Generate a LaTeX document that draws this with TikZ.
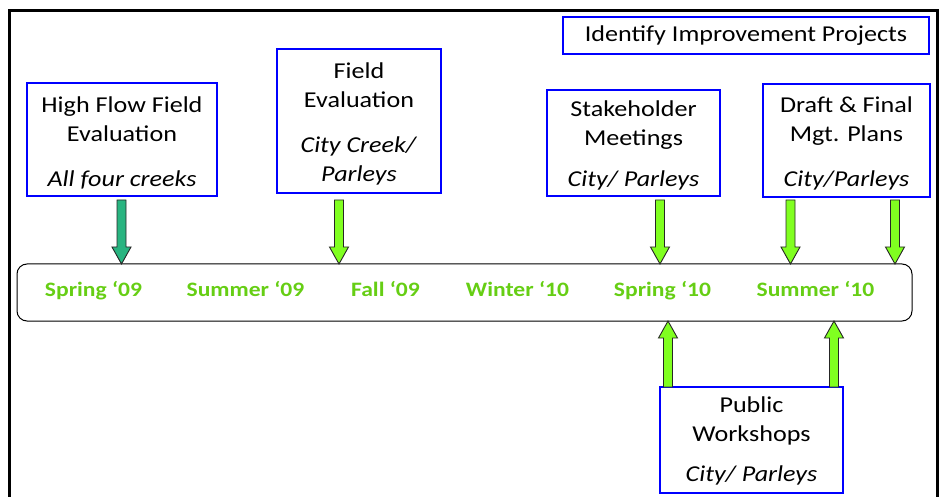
\documentclass[tikz,border=0pt]{standalone}
\usepackage{fontspec}
\setmainfont{Carlito}[FakeStretch=1.15]
\definecolor{seasongreen}{RGB}{102,206,20}
\definecolor{limegreen}{RGB}{128,255,32}
\definecolor{tealgreen}{RGB}{40,180,128}
\newcommand\fatdown[4]{%
  \draw[fatarrow, fill=#4] (#1-4.5,#2) -- (#1+4.5,#2) -- (#1+4.5,#3-17) -- (#1+9.5,#3-17) -- (#1,#3) -- (#1-9.5,#3-17) -- (#1-4.5,#3-17) -- cycle;}
\newcommand\fatup[4]{%
  \draw[fatarrow, fill=#4] (#1-4.5,#2) -- (#1+4.5,#2) -- (#1+4.5,#3+17) -- (#1+9.5,#3+17) -- (#1,#3) -- (#1-9.5,#3+17) -- (#1-4.5,#3+17) -- cycle;}
\begin{document}
\begin{tikzpicture}[x=1pt,y=-1pt,
  box/.style={draw=blue, line width=1.6pt, fill=white, inner sep=0pt},
  boxtext/.style={align=center, font=\fontsize{22.7}{29}\selectfont, inner sep=0pt},
  season/.style={font=\fontsize{20.5}{24}\selectfont\bfseries, text=seasongreen, anchor=base},
  fatarrow/.style={draw=black!85, line width=0.9pt, line join=miter}]
\useasboundingbox (0,0) rectangle (943,497);
\draw[line width=3pt] (9.5,497) -- (9.5,10.5) -- (937.5,10.5) -- (937.5,497);

\node[draw=black, line width=1pt, rounded corners=10pt, minimum width=895, minimum height=57] (tl) at (464.5,292.5) {};

\node[box, minimum width=366, minimum height=37] (idp) at (746,35.5) {};
\node[boxtext] (idpt) at (idp.center) {Identify Improvement Projects};
\node[box, minimum width=190, minimum height=113] (hf) at (122,139.5) {};
\node[boxtext, yshift=-3pt] (hft) at (hf.center)
  {High Flow Field\\Evaluation\\[16pt]\textit{All four creeks}};
\node[box, minimum width=164, minimum height=144] (fe) at (359,121) {};
\node[boxtext, yshift=-3pt] (fet) at (fe.center)
  {Field\\Evaluation\\[16pt]\textit{City Creek/}\\\textit{Parleys}};
\node[box, minimum width=173, minimum height=106] (sm) at (633.5,143) {};
\node[boxtext, yshift=-2pt] (smt) at (sm.center)
  {Stakeholder\\Meetings\\[12pt]\textit{City/ Parleys}};
\node[box, minimum width=167, minimum height=113] (dr) at (846.5,140.5) {};
\node[boxtext, yshift=-3pt] (drt) at (dr.center)
  {Draft \& Final\\Mgt. Plans\\[16pt]\textit{City/Parleys}};
\node[box, minimum width=183, minimum height=106] (pw) at (751.5,440) {};
\node[boxtext, yshift=-1pt] (pwt) at (pw.center)
  {Public\\Workshops\\[11pt]\textit{City/ Parleys}};

\node[season] (s09) at (93.5,297) {Spring ‘09};
\node[season] (su09) at (245.5,297) {Summer ‘09};
\node[season] (f09) at (385.5,297) {Fall ‘09};
\node[season] (w10) at (517.5,297) {Winter ‘10};
\node[season] (s10) at (662.5,297) {Spring ‘10};
\node[season] (su10) at (815.5,297) {Summer ‘10};

\fatdown{121.5}{200}{264}{tealgreen}
\fatdown{339}{200}{264}{limegreen}
\fatdown{660}{200}{264}{limegreen}
\fatdown{790.5}{200}{264}{limegreen}
\fatdown{895}{200}{264}{limegreen}
\fatup{668}{387}{321}{limegreen}
\fatup{834}{387}{321}{limegreen}
\end{tikzpicture}
\end{document}
